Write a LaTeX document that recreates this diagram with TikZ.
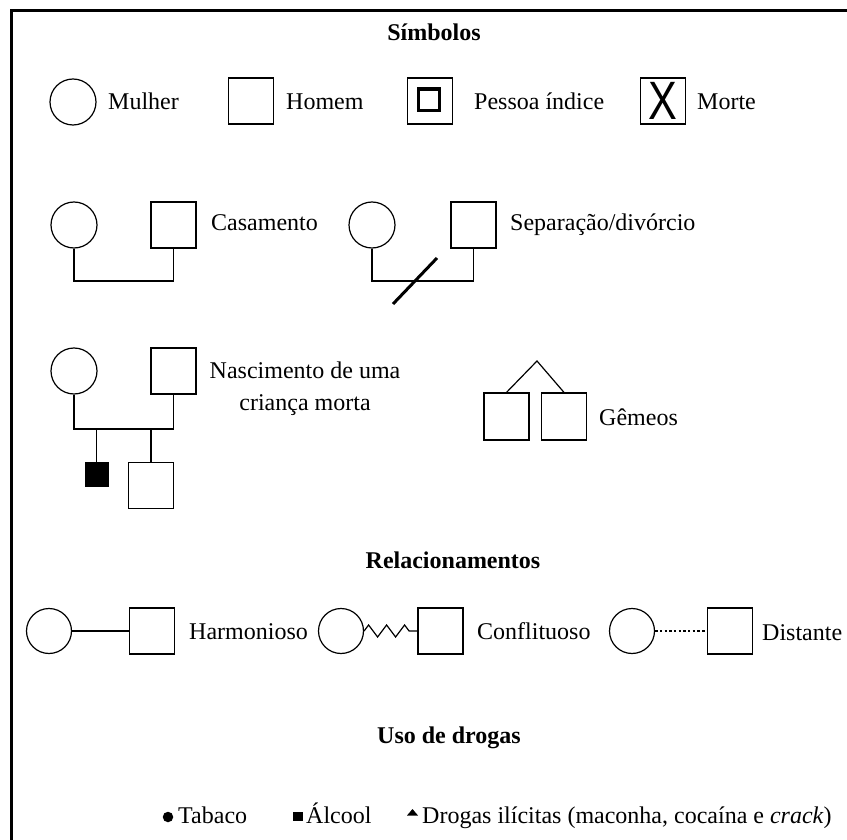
\documentclass[tikz,border=0pt]{standalone}
\usepackage{fontspec}
\setmainfont{Liberation Serif}
\newfontfamily\xfont{Liberation Sans}
\usetikzlibrary{decorations.pathmorphing}
\tikzset{
  woman/.style={draw, circle, minimum size=46, inner sep=0, line width=1.2},
  man/.style={draw, rectangle, minimum width=45, minimum height=46, inner sep=0, line width=1.2},
  lbl/.style={anchor=base west, inner sep=0, font=\fontsize{24}{30}\selectfont},
  clbl/.style={anchor=base, inner sep=0, font=\fontsize{24}{30}\selectfont},
  head/.style={anchor=base, inner sep=0, font=\bfseries\fontsize{24}{30}\selectfont},
  link/.style={line width=1.2}
}
\begin{document}
\begin{tikzpicture}[x=1pt,y=-1pt]
\useasboundingbox (0,0) rectangle (847,840);
% frame
\draw[line width=3] (11,840) -- (11,11) -- (847,11);

% ---- Simbolos
\node[head] (hsim) at (434,41) {Símbolos};
\node[woman] (w1) at (73,102) {};
\node[lbl] (tw1) at (108,110) {Mulher};
\node[man] (m1) at (251,101) {};
\node[lbl] (tm1) at (286,110) {Homem};
\node[man] (p1) at (430,101) {};
\node[draw, line width=3.5, minimum width=21, minimum height=21.5, inner sep=0] (p1i) at (429,100) {};
\node[lbl] (tp1) at (474,110) {Pessoa índice};
\node[man] (d1) at (663,101) {\scalebox{0.8}[1]{\xfont\fontsize{54}{54}\selectfont X}};
\node[lbl] (td1) at (697,110) {Morte};

% ---- Casamento / separacao
\node[woman] (w2) at (74,225) {};
\node[man] (m2) at (173.5,225) {};
\coordinate (b2) at (0,281);
\draw[link] (w2.south) -- (w2.south |- b2) -- (m2.south |- b2) -- (m2.south);
\node[lbl] (tc2) at (211,231) {Casamento};

\node[woman] (w3) at (372,225) {};
\node[man] (m3) at (473.5,225) {};
\draw[link] (w3.south) -- (w3.south |- b2) -- (m3.south |- b2) -- (m3.south);
\coordinate (s1) at (393,304);
\coordinate (s2) at (437,258);
\draw[line width=3] (s1) -- (s2);
\node[lbl] (ts3) at (510,231) {Separação/divórcio};

% ---- Nascimento de crianca morta
\node[woman] (w4) at (74,371) {};
\node[man] (m4) at (173.5,371) {};
\coordinate (b4) at (0,429);
\draw[link] (w4.south) -- (w4.south |- b4) -- (m4.south |- b4) -- (m4.south);
\node[draw, fill=black, minimum width=23, minimum height=24, inner sep=0] (c1) at (96.5,474) {};
\node[man] (c2) at (151,485.5) {};
\draw[link] (c1.north |- b4) -- (c1.north);
\draw[link] (c2.north |- b4) -- (c2.north);
\node[clbl] (tn1) at (305,378) {Nascimento de uma};
\node[clbl] (tn2) at (305,410) {criança morta};

% ---- Gemeos
\coordinate (apex) at (537,361);
\node[man, minimum height=47] (g1) at (506.5,416.5) {};
\node[man, minimum height=47] (g2) at (564,416.5) {};
\draw[link] (g1.north) -- (apex) -- (g2.north);
\node[lbl] (tg) at (599,425) {Gêmeos};

% ---- Relacionamentos
\node[head] (hrel) at (453,568) {Relacionamentos};
\node[woman, minimum size=45] (w5) at (49,631) {};
\node[man] (m5) at (152,631) {};
\draw[link] (w5.east) -- (m5.west);
\node[lbl] (tr1) at (189,639) {Harmonioso};

\node[woman, minimum size=45] (w6) at (341,631) {};
\node[man] (m6) at (440.5,631) {};
\draw[link, decorate, decoration={zigzag, segment length=18, amplitude=6}] (w6.east) -- (m6.west);
\node[lbl] (tr2) at (477,639) {Conflituoso};

\node[woman, minimum size=45] (w7) at (632,631) {};
\node[man] (m7) at (730,631) {};
\draw[line width=2.4, dash pattern=on 2.4 off 2.3] (w7.east) -- (m7.west);
\node[lbl] (tr3) at (762,640) {Distante};

% ---- Uso de drogas
\node[head] (hdro) at (449,743) {Uso de drogas};
\node[circle, fill=black, minimum width=9.5, minimum height=10.5, inner sep=0] (k1) at (168,817) {};
\node[lbl] (tk1) at (178,823) {Tabaco};
\node[fill=black, minimum size=9.5, inner sep=0] (k2) at (298,816.5) {};
\node[lbl] (tk2) at (306,823) {Álcool};
\coordinate (tri) at (412.5,812.5);
\fill ([xshift=-5.5pt,yshift=-3pt] tri) -- ([xshift=5.5pt,yshift=-3pt] tri) -- ([yshift=3.5pt] tri) -- cycle;
\node[lbl] (tk3) at (422,823) {Drogas ilícitas (maconha, cocaína e \textit{crack})};
\end{tikzpicture}
\end{document}
